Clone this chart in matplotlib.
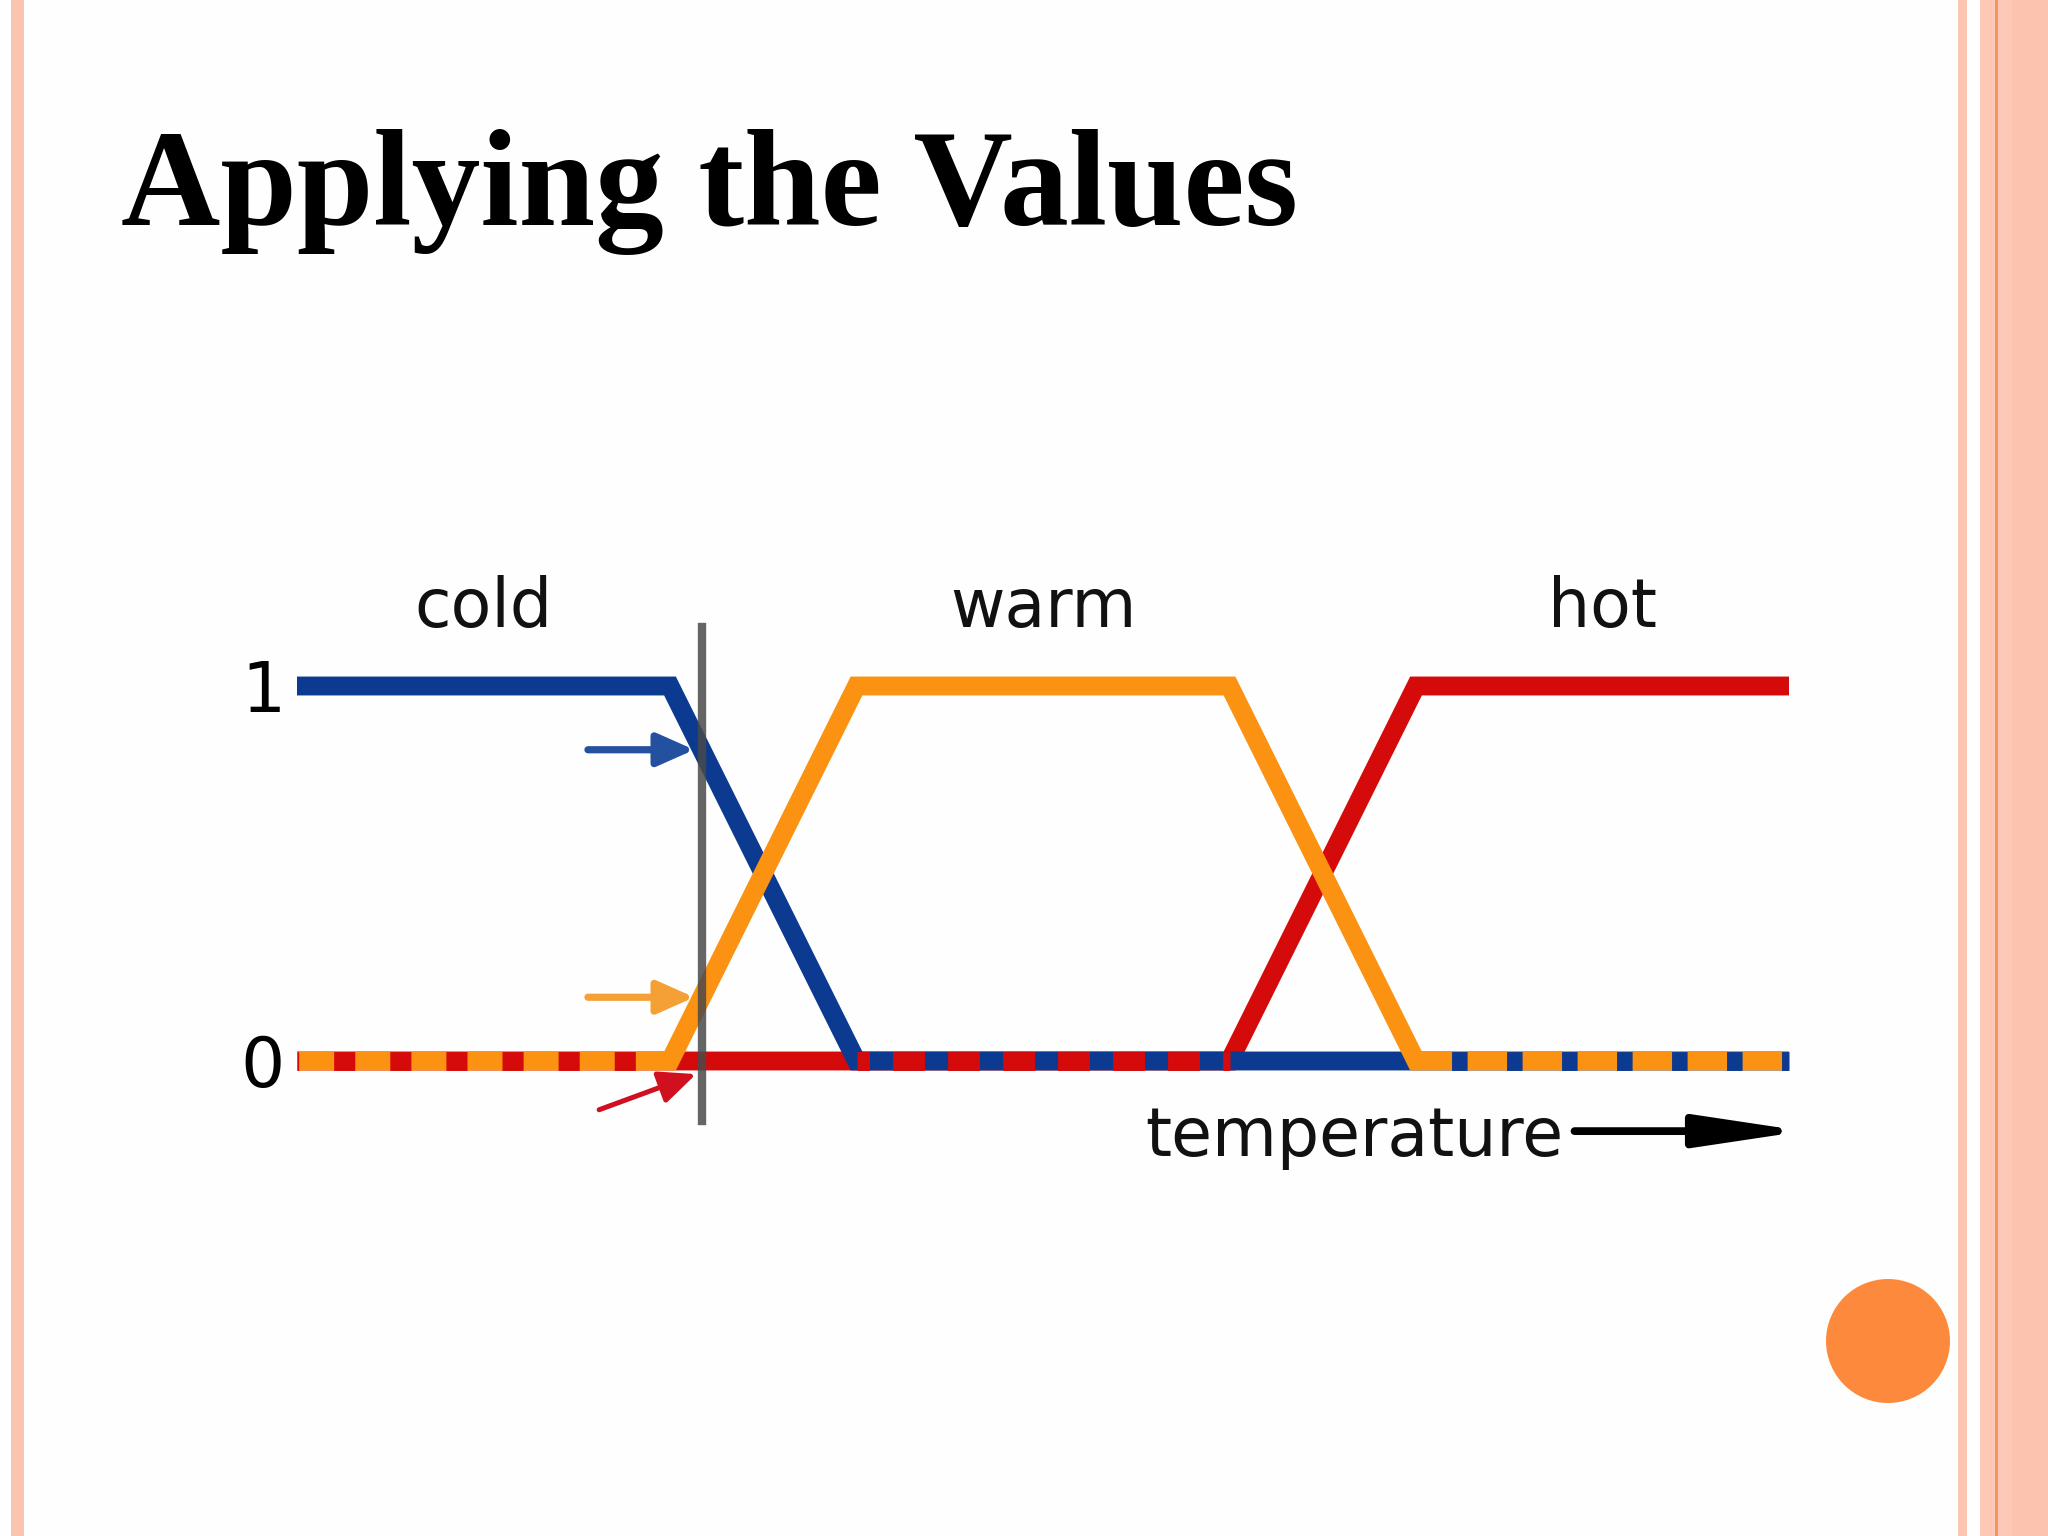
import numpy as np
import matplotlib.pyplot as plt
from matplotlib.patches import Rectangle, Circle

plt.rcParams['lines.scale_dashes'] = False

# membership functions, temperature axis 0..80
x_pts = [0, 20, 30, 50, 60, 80]
cold = [1, 1, 0, 0, 0, 0]
warm = [0, 0, 1, 1, 0, 0]
hot = [0, 0, 0, 0, 1, 1]
names = ["cold", "warm", "hot"]
x_input = 21.7          # crisp temperature applied
tick_vals = [0, 1]

BLUE = '#0c3a90'
ORANGE = '#fb9211'
RED = '#d50a0a'

W, H = 2048, 1536
fig = plt.figure(figsize=(W / 200, H / 200), dpi=200, facecolor='#fefefe')

# slide decoration in pixel coords
bg = fig.add_axes([0, 0, 1, 1])
bg.set_xlim(0, W)
bg.set_ylim(H, 0)
bg.axis('off')
bg.add_patch(Rectangle((11, 0), 13, H, color='#fbc4af', lw=0))
bg.add_patch(Rectangle((1958, 0), 9, H, color='#fcc6b2', lw=0))
bg.add_patch(Rectangle((1980, 0), 68, H, color='#fdc8b6', lw=0))
bg.add_patch(Rectangle((2012, 0), 36, H, color='#fcc3ae', lw=0))
bg.add_patch(Rectangle((1995, 0), 3, H, color='#f59560', lw=0))
bg.add_patch(Circle((1888, 1341), 62, color='#fd8a3c', lw=0))
bg.text(121, 225, "Applying the Values", fontsize=49.5, fontweight='bold',
        family='Liberation Serif', va='baseline', ha='left', color='black')

# chart axes: data 0..80 x 0..1 mapped to pixel box
X0, X1, Y0, Y1 = 297, 1789, 1061, 686
ax = fig.add_axes([X0 / W, 1 - Y0 / H, (X1 - X0) / W, (Y0 - Y1) / H])
ax.set_xlim(0, 80)
ax.set_ylim(0, 1)
ax.patch.set_visible(False)
for s in ax.spines.values():
    s.set_visible(False)
ax.set_xticks([])
ax.set_yticks(tick_vals)
ax.set_yticklabels([str(v) for v in tick_vals])
ax.tick_params(length=0, pad=4.3, labelsize=25)

lw = 6.8
funcs = {"cold": (cold, BLUE, 3), "warm": (warm, ORANGE, 4), "hot": (hot, RED, 2)}
for n in names:
    ys, c, z = funcs[n]
    ax.plot(x_pts, ys, color=c, lw=lw, solid_capstyle='butt',
            solid_joinstyle='miter', zorder=z, clip_on=False)

# where two functions lie on 0 together, dash the lower one over the upper
dash = {("hot", "warm"): (7.6, 12.6), ("hot", "cold"): (11.5, 8.3),
        ("cold", "warm"): (5.6, 14.2)}
order = ["hot", "cold", "warm"]   # drawing priority, last on top
for i in range(len(x_pts) - 1):
    zero = [n for n in order if funcs[n][0][i] == 0 and funcs[n][0][i + 1] == 0]
    if len(zero) == 2:
        lo = zero[0]
        ax.plot(x_pts[i:i + 2], [0, 0], color=funcs[lo][1], lw=lw,
                linestyle=(7, dash[tuple(zero)]), dash_capstyle='butt',
                zorder=5, clip_on=False)

# labels above each plateau
for n in names:
    ys = np.array(funcs[n][0])
    top = np.array(x_pts)[ys == 1]
    ax.text((top.min() + top.max()) / 2, 1.157, n, fontsize=24, ha='center',
            va='baseline', color='#111111')

# crisp input line
ax.plot([x_input, x_input], [-0.16, 1.157], color='#4a4a4a', lw=3.0, alpha=0.85,
        zorder=6, clip_on=False)

mu_cold = np.interp(x_input, x_pts, cold)
mu_warm = np.interp(x_input, x_pts, warm)
small = dict(arrowstyle='-|>,head_length=0.45,head_width=0.2', mutation_scale=25,
             lw=2.6, shrinkA=0, shrinkB=0)
ax.annotate('', xy=(21.3, mu_cold), xytext=(15.6, mu_cold),
            arrowprops=dict(color='#2450a0', **small), annotation_clip=False)
ax.annotate('', xy=(21.3, mu_warm), xytext=(15.6, mu_warm),
            arrowprops=dict(color='#f5a035', **small), annotation_clip=False)
ax.annotate('', xy=(21.4, -0.035), xytext=(16.2, -0.13),
            arrowprops=dict(color='#d0101e', arrowstyle='-|>,head_length=0.45,head_width=0.2',
                            mutation_scale=25, lw=1.8, shrinkA=0, shrinkB=0),
            annotation_clip=False)

# axis caption
ax.text(45.5, -0.253, "temperature", fontsize=24, ha='left', va='baseline',
        color='#111111')
ax.annotate('', xy=(80.8, -0.187), xytext=(68.5, -0.187),
            arrowprops=dict(arrowstyle='-|>,head_length=1.6,head_width=0.24',
                            mutation_scale=20, lw=2.8, color='black',
                            shrinkA=0, shrinkB=0),
            annotation_clip=False)

fig.savefig('out.png', dpi=200, facecolor=fig.get_facecolor())
